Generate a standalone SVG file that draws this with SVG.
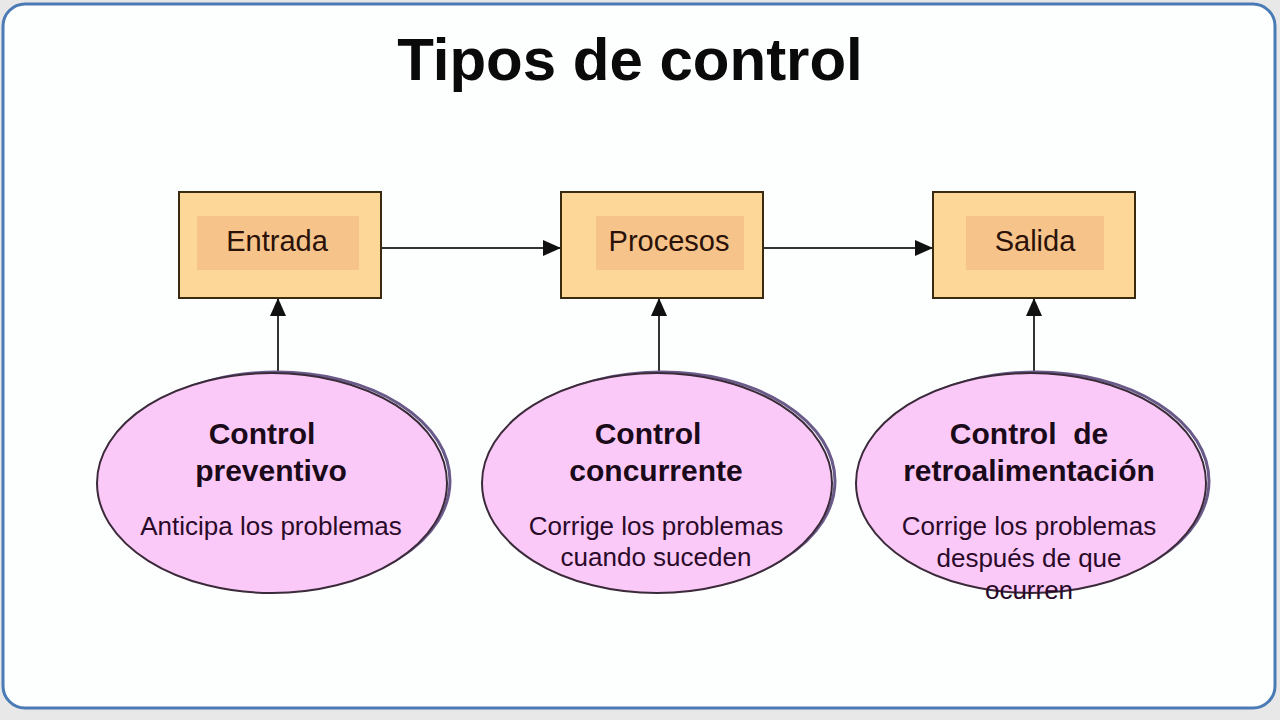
<svg xmlns="http://www.w3.org/2000/svg" width="1280" height="720" viewBox="0 0 1280 720">
<defs>
<marker id="ah" markerWidth="18" markerHeight="16" refX="18" refY="8" orient="auto" markerUnits="userSpaceOnUse" viewBox="0 0 18 16">
<path d="M0,0 L18,8 L0,16 Z" fill="#111"/>
</marker>
<style>
.box{fill:#fdd798;stroke:#3a2a10;stroke-width:2}
.inner{fill:#f6c38a}
.lbl{font-family:"Liberation Sans",Arial,sans-serif;font-size:29px;fill:#2a1208;text-anchor:middle}
.ell{fill:#fbc9f7;stroke:#3a2a3a;stroke-width:2}
.sh{fill:none;stroke:#6a5a8a;stroke-width:3}
.t1{font-family:"Liberation Sans",Arial,sans-serif;font-size:30px;font-weight:bold;fill:#1a0a1a;text-anchor:middle}
.t2{font-family:"Liberation Sans",Arial,sans-serif;font-size:26px;fill:#2a0a2a;text-anchor:middle}
.con{stroke:#333;stroke-width:2;fill:none}
</style>
</defs>
<rect x="0" y="0" width="1280" height="720" fill="#e8e8e8"/>
<rect x="3" y="4" width="1272" height="704" rx="22" fill="#fdfefe" stroke="#4a7bb4" stroke-width="3"/>
<text x="630" y="80" font-family="Liberation Sans,Arial,sans-serif" font-size="60" font-weight="bold" fill="#0a0a0a" text-anchor="middle">Tipos de control</text>

<g id="connectors">
<line class="con" x1="381" y1="248" x2="561" y2="248" marker-end="url(#ah)"/>
<line class="con" x1="763" y1="248" x2="933" y2="248" marker-end="url(#ah)"/>
<line class="con" x1="278" y1="371" x2="278" y2="298" marker-end="url(#ah)"/>
<line class="con" x1="659" y1="371" x2="659" y2="298" marker-end="url(#ah)"/>
<line class="con" x1="1034" y1="371" x2="1034" y2="298" marker-end="url(#ah)"/>
</g>

<g id="entrada">
<rect class="box" x="179" y="192" width="202" height="106"/>
<rect class="inner" x="197" y="216" width="162" height="54"/>
<text class="lbl" x="277" y="251">Entrada</text>
</g>
<g id="procesos">
<rect class="box" x="561" y="192" width="202" height="106"/>
<rect class="inner" x="596" y="216" width="148" height="54"/>
<text class="lbl" x="669" y="251">Procesos</text>
</g>
<g id="salida">
<rect class="box" x="933" y="192" width="202" height="106"/>
<rect class="inner" x="966" y="216" width="138" height="54"/>
<text class="lbl" x="1035" y="251">Salida</text>
</g>

<g id="preventivo">
<ellipse class="sh" cx="277" cy="481" rx="173" ry="109"/>
<ellipse class="ell" cx="272" cy="483" rx="175" ry="110"/>
<text class="t1" x="262" y="444">Control</text>
<text class="t1" x="271" y="481">preventivo</text>
<text class="t2" x="271" y="535">Anticipa los problemas</text>
</g>
<g id="concurrente">
<ellipse class="sh" cx="662" cy="481" rx="173" ry="109"/>
<ellipse class="ell" cx="657" cy="483" rx="175" ry="110"/>
<text class="t1" x="648" y="444">Control</text>
<text class="t1" x="656" y="481">concurrente</text>
<text class="t2" x="656" y="535">Corrige los problemas</text>
<text class="t2" x="656" y="566">cuando suceden</text>
</g>
<g id="retroalimentacion">
<ellipse class="sh" cx="1036" cy="481" rx="173" ry="109"/>
<ellipse class="ell" cx="1031" cy="483" rx="175" ry="110"/>
<text class="t1" x="1029" y="444" xml:space="preserve">Control  de</text>
<text class="t1" x="1029" y="481">retroalimentación</text>
<text class="t2" x="1029" y="535">Corrige los problemas</text>
<text class="t2" x="1029" y="567">después de que</text>
<text class="t2" x="1029" y="599">ocurren</text>
</g>
</svg>
